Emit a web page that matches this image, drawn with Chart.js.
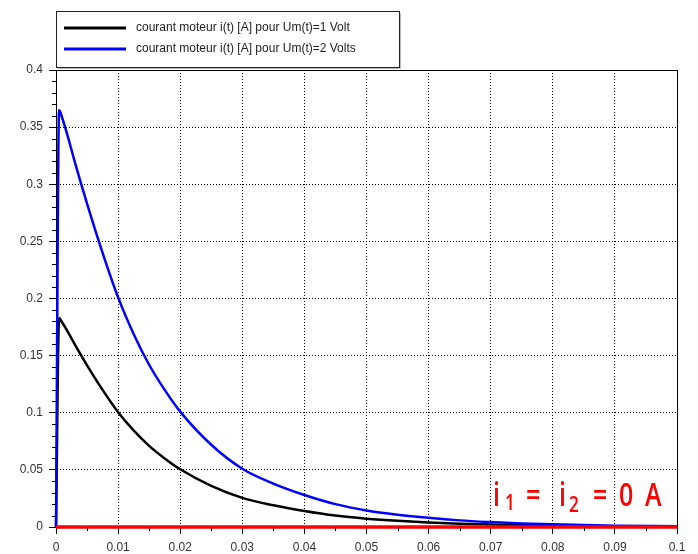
<!DOCTYPE html>
<html>
<head>
<meta charset="utf-8">
<script src="https://cdn.jsdelivr.net/npm/chart.js@4"></script>
<style>
  html, body { margin: 0; padding: 0; background: #fff; }
  #wrap { width: 698px; height: 554px; }
</style>
</head>
<body>
<div id="wrap"><canvas id="currentChart" width="698" height="554"></canvas></div>
<script>
// time in seconds
const times = [0, 0.0005, 0.001, 0.002, 0.003, 0.005, 0.0075, 0.01, 0.0125, 0.015, 0.0175, 0.02, 0.025,
    0.03, 0.035, 0.04, 0.045, 0.05, 0.055, 0.06, 0.065, 0.07, 0.075, 0.08, 0.09, 0.1];
// current for Um = 1 V
const current1V = [0, 0.183, 0.179, 0.170, 0.160, 0.1415, 0.120, 0.1005, 0.0845, 0.071, 0.060, 0.0505, 0.036,
    0.0255, 0.019, 0.014, 0.010, 0.0073, 0.0054, 0.004, 0.0029, 0.0022, 0.0016, 0.0012, 0.0006, 0.0003];
// current for Um = 2 V
const current2V = [0, 0.365, 0.358, 0.340, 0.320, 0.283, 0.240, 0.201, 0.169, 0.142, 0.120, 0.101, 0.072,
    0.051, 0.038, 0.028, 0.020, 0.0145, 0.0108, 0.008, 0.0058, 0.0043, 0.0031, 0.0023, 0.0012, 0.0006];
// zero line (i1 = i2 = 0)
const zeroTimes = [0, 0.1];
const zeroCurrent = [0, 0];

const seriesLabels = [
    "courant moteur i(t) [A] pour Um(t)=1 Volt",
    "courant moteur i(t) [A] pour Um(t)=2 Volts"
];
const xTicks = [0, 0.01, 0.02, 0.03, 0.04, 0.05, 0.06, 0.07, 0.08, 0.09, 0.1];
const yTicks = [0, 0.05, 0.1, 0.15, 0.2, 0.25, 0.3, 0.35, 0.4];

const toPoints = (xs, ys) => xs.map((x, i) => ({ x: x, y: ys[i] }));
const fmt = v => String(Number(v.toFixed(3)));
const FONT = "'Liberation Sans', Arial, sans-serif";

// minor ticks, box border, legend and annotation
const decorPlugin = {
    id: "decor",
    afterDraw(chart) {
        const c = chart.ctx;
        const a = chart.chartArea;
        const xs = chart.scales.x;
        const ys = chart.scales.y;
        c.save();

        // minor ticks
        c.strokeStyle = "#000";
        c.lineWidth = 1;
        c.beginPath();
        for (let k = 0; k < 10; k++) {
            const px = Math.round(xs.getPixelForValue(0.005 + k * 0.01)) + 0.5;
            c.moveTo(px, a.bottom);
            c.lineTo(px, a.bottom + 4);
        }
        for (let k = 1; k < 40; k++) {
            if (k % 5 === 0) continue;
            const py = Math.round(ys.getPixelForValue(k * 0.01)) + 0.5;
            c.moveTo(a.left, py);
            c.lineTo(a.left - 4, py);
        }
        c.stroke();

        // top and right border
        c.beginPath();
        c.moveTo(a.left, a.top + 0.5);
        c.lineTo(a.right + 0.5, a.top + 0.5);
        c.lineTo(a.right + 0.5, a.bottom);
        c.stroke();

        // legend box
        const bx = 56, by = 11, bw = 343, bh = 56;
        c.fillStyle = "#bbb";
        c.fillRect(bx + 2, by + 2, bw, bh);
        c.fillStyle = "#fff";
        c.fillRect(bx, by, bw, bh);
        c.strokeStyle = "#222";
        c.lineWidth = 1;
        c.strokeRect(bx + 0.5, by + 0.5, bw, bh);
        c.font = "12px " + FONT;
        c.textBaseline = "middle";
        c.textAlign = "left";
        const rows = [28, 49];
        for (let i = 0; i < 2; i++) {
            const ds = chart.data.datasets[i];
            c.strokeStyle = ds.borderColor;
            c.lineWidth = 3;
            c.beginPath();
            c.moveTo(64, rows[i]);
            c.lineTo(126, rows[i]);
            c.stroke();
            c.fillStyle = "#222";
            c.fillText(ds.label, 136, rows[i]);
        }

        // red annotation, narrow glyphs placed one by one
        c.fillStyle = "#ff0000";
        c.textBaseline = "alphabetic";
        const big = "600 32px 'Open Sans', sans-serif";
        const small = "600 22px 'Open Sans', sans-serif";
        const parts = [
            ["i", big, 493, 506], ["1", small, 505, 510],
            ["=", big, 526, 506],
            ["i", big, 559, 506], ["2", small, 569, 512],
            ["=", big, 593, 506],
            ["0", big, 619, 506], ["A", big, 645, 506]
        ];
        for (const p of parts) {
            c.save();
            c.font = p[1];
            c.translate(p[2], p[3]);
            c.scale(0.78, 1);
            c.fillText(p[0], 0, 0);
            c.restore();
        }
        c.restore();
    }
};

const ctx = document.getElementById("currentChart").getContext("2d");

const chart = new Chart(ctx, {
    type: "line",
    data: {
        datasets: [
            {
                label: seriesLabels[0],
                data: toPoints(times, current1V),
                borderColor: "#000000",
                borderWidth: 2.5,
                order: 2
            },
            {
                label: seriesLabels[1],
                data: toPoints(times, current2V),
                borderColor: "#0000ff",
                borderWidth: 2.5,
                order: 1
            },
            {
                label: "zero",
                data: toPoints(zeroTimes, zeroCurrent),
                borderColor: "#ff0000",
                borderWidth: 3.5,
                order: 0
            }
        ]
    },
    options: {
        responsive: false,
        animation: false,
        devicePixelRatio: 1,
        layout: { padding: { top: 70, right: 21, left: 0, bottom: 0 } },
        elements: {
            point: { radius: 0 },
            line: { cubicInterpolationMode: "monotone", fill: false }
        },
        datasets: { line: { clip: false } },
        plugins: {
            legend: { display: false },
            tooltip: { enabled: false }
        },
        scales: {
            x: {
                type: "linear",
                min: 0,
                max: 0.1,
                afterBuildTicks: s => { s.ticks = xTicks.map(v => ({ value: v })); },
                afterFit: s => { s.height = 27; },
                ticks: {
                    callback: v => fmt(v),
                    color: "#333",
                    font: { size: 12, family: FONT },
                    padding: 6,
                    maxRotation: 0,
                    autoSkip: false
                },
                grid: { color: "#000", lineWidth: 1, tickLength: 7, tickColor: "#000" },
                border: { display: true, color: "#000", width: 1, dash: [1, 2] }
            },
            y: {
                type: "linear",
                min: 0,
                max: 0.4,
                afterBuildTicks: s => { s.ticks = yTicks.map(v => ({ value: v })); },
                afterFit: s => { s.width = 56; },
                ticks: {
                    callback: v => fmt(v),
                    color: "#333",
                    font: { size: 12, family: FONT },
                    padding: 6,
                    autoSkip: false
                },
                grid: { color: "#000", lineWidth: 1, tickLength: 7, tickColor: "#000" },
                border: { display: true, color: "#000", width: 1, dash: [1, 2] }
            }
        }
    },
    plugins: [decorPlugin]
});
</script>
</body>
</html>
